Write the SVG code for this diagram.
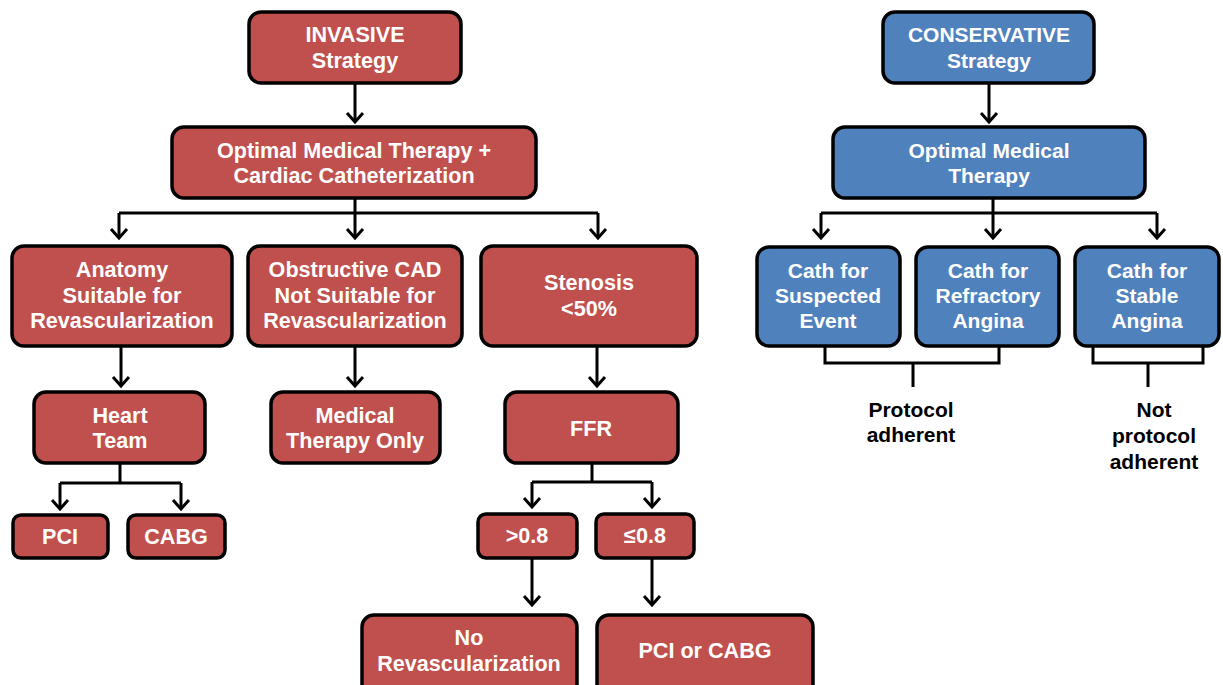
<svg xmlns="http://www.w3.org/2000/svg" width="1223" height="685" viewBox="0 0 1223 685">
<style>
.red{fill:#c0504d;stroke:#000;stroke-width:3.5}
.blue{fill:#4f81bd;stroke:#000;stroke-width:3.5}
.t{font-family:"Liberation Sans",Arial,sans-serif;font-weight:bold;font-size:21px;fill:#fff;text-anchor:middle}
.l{font-size:21.6px}
.k{fill:#000}
.c{fill:none;stroke:#000;stroke-width:3}
.a{marker-end:url(#ah)}
</style>
<defs>
<marker id="ah" markerUnits="userSpaceOnUse" viewBox="-12 -12 24 24" refX="0" refY="0" markerWidth="24" markerHeight="24" orient="auto" overflow="visible">
<path d="M-9,-8 L0,0 L-9,8" fill="none" stroke="#000" stroke-width="3"/>
</marker>
</defs>
<rect width="1223" height="685" fill="#fff"/>
<g id="connectors">
<path class="c a" d="M355,83 V122"/>
<path class="c" d="M355,198 V213 M119,213 H598"/>
<path class="c a" d="M119,213 V238"/>
<path class="c a" d="M355,213 V238"/>
<path class="c a" d="M598,213 V238"/>
<path class="c a" d="M121,346 V386"/>
<path class="c a" d="M355,346 V386"/>
<path class="c a" d="M597,346 V386"/>
<path class="c" d="M120,463 V483 M60,483 H181"/>
<path class="c a" d="M60,483 V509"/>
<path class="c a" d="M181,483 V509"/>
<path class="c" d="M592,463 V482 M532,482 H652"/>
<path class="c a" d="M532,482 V507"/>
<path class="c a" d="M652,482 V507"/>
<path class="c a" d="M532,558 V605"/>
<path class="c a" d="M652,558 V605"/>
<path class="c a" d="M989,83 V122"/>
<path class="c" d="M993,198 V213 M821,213 H1157"/>
<path class="c a" d="M821,213 V238"/>
<path class="c a" d="M993,213 V238"/>
<path class="c a" d="M1157,213 V238"/>
<path class="c" d="M825,346 V363 H999 V346 M913,363 V387"/>
<path class="c" d="M1093,346 V363 H1203 V346 M1148,363 V387"/>
</g>
<g id="invasive"><rect class="red" x="249" y="12" width="212" height="71" rx="12"/><text class="t l" x="355" y="42">INVASIVE</text><text class="t l" x="355" y="68">Strategy</text></g>
<g id="omt-cath"><rect class="red" x="172" y="127" width="364" height="71" rx="12"/><text class="t l" x="354" y="158">Optimal Medical Therapy +</text><text class="t l" x="354" y="183">Cardiac Catheterization</text></g>
<g id="anatomy"><rect class="red" x="12" y="246" width="220" height="100" rx="12"/><text class="t l" x="122" y="277">Anatomy</text><text class="t l" x="122" y="303">Suitable for</text><text class="t l" x="122" y="328">Revascularization</text></g>
<g id="obstructive"><rect class="red" x="248" y="246" width="214" height="100" rx="12"/><text class="t l" x="355" y="277">Obstructive CAD</text><text class="t l" x="355" y="303">Not Suitable for</text><text class="t l" x="355" y="328">Revascularization</text></g>
<g id="stenosis"><rect class="red" x="481" y="246" width="216" height="100" rx="12"/><text class="t l" x="589" y="290">Stenosis</text><text class="t l" x="589" y="316">&lt;50%</text></g>
<g id="heart-team"><rect class="red" x="34" y="392" width="171" height="71" rx="12"/><text class="t l" x="120" y="423">Heart</text><text class="t l" x="120" y="448">Team</text></g>
<g id="medical-only"><rect class="red" x="271" y="392" width="169" height="71" rx="12"/><text class="t l" x="355" y="423">Medical</text><text class="t l" x="355" y="448">Therapy Only</text></g>
<g id="ffr"><rect class="red" x="505" y="392" width="173" height="71" rx="12"/><text class="t l" x="591" y="436">FFR</text></g>
<g id="pci"><rect class="red" x="13" y="515" width="95" height="43" rx="8"/><text class="t l" x="60" y="544">PCI</text></g>
<g id="cabg"><rect class="red" x="128" y="515" width="97" height="43" rx="8"/><text class="t l" x="176" y="544">CABG</text></g>
<g id="gt08"><rect class="red" x="478" y="514" width="99" height="44" rx="8"/><text class="t l" x="527" y="543">&gt;0.8</text></g>
<g id="le08"><rect class="red" x="596" y="514" width="98" height="44" rx="8"/><text class="t l" x="645" y="543">≤0.8</text></g>
<g id="no-revasc"><rect class="red" x="362" y="615" width="215" height="82" rx="12"/><text class="t l" x="469" y="645">No</text><text class="t l" x="469" y="671">Revascularization</text></g>
<g id="pci-or-cabg"><rect class="red" x="597" y="615" width="216" height="82" rx="12"/><text class="t l" x="705" y="658">PCI or CABG</text></g>
<g id="conservative"><rect class="blue" x="883" y="12" width="211" height="71" rx="12"/><text class="t" x="989" y="42">CONSERVATIVE</text><text class="t" x="989" y="68">Strategy</text></g>
<g id="omt"><rect class="blue" x="833" y="127" width="312" height="71" rx="12"/><text class="t" x="989" y="158">Optimal Medical</text><text class="t" x="989" y="183">Therapy</text></g>
<g id="cath-suspected"><rect class="blue" x="757" y="247" width="143" height="99" rx="12"/><text class="t" x="828" y="278">Cath for</text><text class="t" x="828" y="303">Suspected</text><text class="t" x="828" y="328">Event</text></g>
<g id="cath-refractory"><rect class="blue" x="916" y="247" width="143" height="99" rx="12"/><text class="t" x="988" y="278">Cath for</text><text class="t" x="988" y="303">Refractory</text><text class="t" x="988" y="328">Angina</text></g>
<g id="cath-stable"><rect class="blue" x="1075" y="247" width="144" height="99" rx="12"/><text class="t" x="1147" y="278">Cath for</text><text class="t" x="1147" y="303">Stable</text><text class="t" x="1147" y="328">Angina</text></g>
<g id="protocol-adherent"><text class="t k" x="911" y="417">Protocol</text><text class="t k" x="911" y="442">adherent</text></g>
<g id="not-protocol-adherent"><text class="t k" x="1154" y="417">Not</text><text class="t k" x="1154" y="443">protocol</text><text class="t k" x="1154" y="469">adherent</text></g>
</svg>
